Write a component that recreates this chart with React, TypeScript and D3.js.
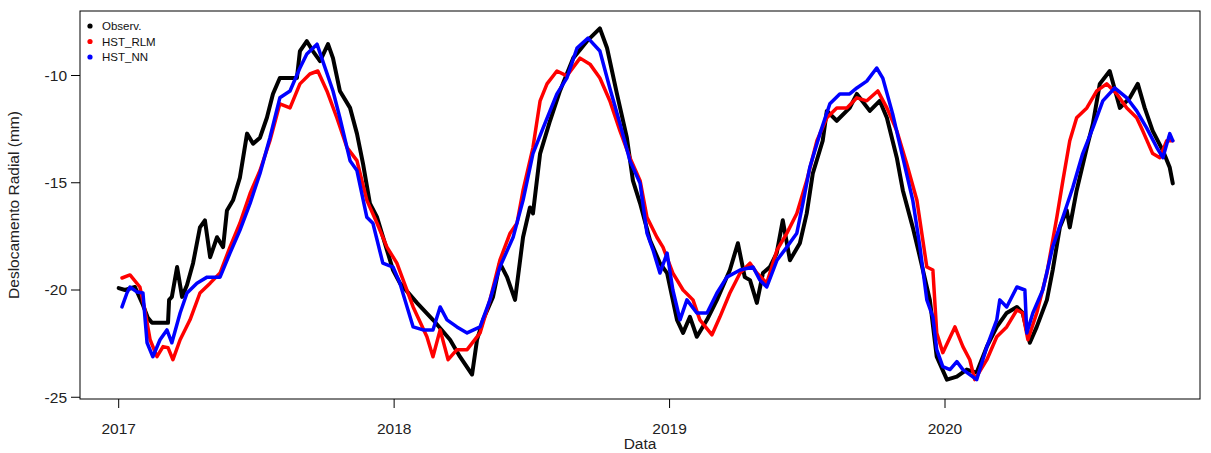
import React from "react";
import * as d3 from "d3";

// time as decimal year, value in mm
const observ: [number, number][] = [
  [2017.0, -19.91], [2017.023, -20.0], [2017.059, -19.86], [2017.088, -20.7], [2017.106, -21.3],
  [2017.121, -21.53], [2017.179, -21.53], [2017.183, -20.46], [2017.193, -20.32], [2017.212, -18.93],
  [2017.23, -20.32], [2017.248, -19.77], [2017.27, -18.75], [2017.295, -17.08], [2017.313, -16.75],
  [2017.332, -18.47], [2017.357, -17.54], [2017.379, -18.0], [2017.393, -16.29], [2017.415, -15.82],
  [2017.44, -14.76], [2017.466, -12.71], [2017.488, -13.18], [2017.513, -12.9], [2017.538, -11.97],
  [2017.56, -10.86], [2017.585, -10.12], [2017.647, -10.12], [2017.658, -8.86], [2017.683, -8.4],
  [2017.705, -8.86], [2017.731, -9.33], [2017.76, -8.54], [2017.778, -9.19], [2017.803, -10.72],
  [2017.84, -11.51], [2017.865, -12.71], [2017.887, -14.11], [2017.912, -15.96], [2017.938, -16.61],
  [2017.974, -18.14], [2017.996, -19.07], [2018.021, -19.68], [2018.083, -20.6], [2018.141, -21.39],
  [2018.203, -22.32], [2018.239, -23.11], [2018.283, -23.94], [2018.301, -22.32], [2018.323, -21.39],
  [2018.359, -20.32], [2018.384, -18.75], [2018.41, -19.4], [2018.439, -20.46], [2018.468, -17.54],
  [2018.493, -16.15], [2018.504, -16.43], [2018.53, -13.64], [2018.566, -12.11], [2018.602, -10.72],
  [2018.65, -9.19], [2018.7, -8.4], [2018.747, -7.8], [2018.773, -8.72], [2018.809, -10.86],
  [2018.845, -12.9], [2018.867, -14.9], [2018.893, -15.96], [2018.929, -17.68], [2018.965, -18.75],
  [2018.991, -19.21], [2019.027, -21.39], [2019.049, -22.0], [2019.074, -21.25], [2019.099, -22.18],
  [2019.136, -21.39], [2019.172, -20.46], [2019.219, -19.07], [2019.248, -17.82], [2019.273, -19.4],
  [2019.292, -19.54], [2019.317, -20.6], [2019.339, -19.21], [2019.364, -18.93], [2019.389, -18.28],
  [2019.411, -16.75], [2019.437, -18.61], [2019.473, -17.82], [2019.498, -16.43], [2019.52, -14.57],
  [2019.556, -13.04], [2019.571, -11.65], [2019.607, -12.11], [2019.654, -11.51], [2019.68, -10.86],
  [2019.727, -11.65], [2019.763, -11.18], [2019.789, -11.97], [2019.825, -13.83], [2019.847, -15.36],
  [2019.883, -17.08], [2019.909, -18.47], [2019.945, -20.46], [2019.97, -23.11], [2020.007, -24.18],
  [2020.043, -24.04], [2020.079, -23.71], [2020.115, -23.85], [2020.152, -22.64], [2020.188, -21.72],
  [2020.224, -21.07], [2020.261, -20.79], [2020.282, -21.07], [2020.308, -22.46], [2020.333, -21.72],
  [2020.37, -20.46], [2020.391, -19.07], [2020.417, -17.08], [2020.442, -16.29], [2020.453, -17.08],
  [2020.478, -15.36], [2020.515, -13.36], [2020.537, -12.25], [2020.562, -10.39], [2020.598, -9.79],
  [2020.635, -11.51], [2020.671, -11.04], [2020.7, -10.39], [2020.725, -11.51], [2020.754, -12.58],
  [2020.791, -13.5], [2020.816, -14.29], [2020.827, -15.03],
];

const hstRlm: [number, number][] = [
  [2017.012, -19.44], [2017.041, -19.3], [2017.077, -19.86], [2017.095, -20.93], [2017.114, -22.32],
  [2017.139, -23.11], [2017.161, -22.64], [2017.179, -22.69], [2017.197, -23.25], [2017.223, -22.32],
  [2017.259, -21.39], [2017.295, -20.14], [2017.332, -19.68], [2017.368, -19.21], [2017.404, -18.0],
  [2017.44, -16.89], [2017.477, -15.5], [2017.513, -14.43], [2017.549, -13.04], [2017.585, -11.32],
  [2017.622, -11.51], [2017.658, -10.39], [2017.694, -9.93], [2017.723, -9.79], [2017.756, -10.72],
  [2017.792, -11.97], [2017.829, -13.36], [2017.865, -13.97], [2017.901, -15.82], [2017.938, -16.89],
  [2017.974, -18.0], [2018.01, -18.75], [2018.069, -20.79], [2018.119, -22.18], [2018.141, -23.11],
  [2018.167, -21.86], [2018.196, -23.25], [2018.228, -22.78], [2018.265, -22.78], [2018.312, -22.0],
  [2018.348, -20.46], [2018.384, -18.61], [2018.421, -17.35], [2018.446, -16.89], [2018.468, -15.36],
  [2018.504, -13.36], [2018.53, -11.18], [2018.555, -10.39], [2018.591, -9.79], [2018.627, -10.02],
  [2018.675, -9.19], [2018.711, -9.47], [2018.747, -10.12], [2018.783, -11.18], [2018.82, -12.58],
  [2018.856, -13.83], [2018.893, -14.9], [2018.918, -16.61], [2018.954, -17.54], [2018.976, -18.0],
  [2019.012, -19.21], [2019.049, -20.0], [2019.085, -20.46], [2019.11, -21.39], [2019.154, -22.09],
  [2019.183, -21.25], [2019.219, -20.14], [2019.256, -19.21], [2019.292, -18.75], [2019.317, -19.21],
  [2019.353, -19.68], [2019.39, -18.14], [2019.426, -17.35], [2019.462, -16.43], [2019.498, -14.9],
  [2019.535, -13.04], [2019.571, -11.97], [2019.607, -11.51], [2019.644, -11.51], [2019.68, -11.04],
  [2019.716, -11.18], [2019.756, -10.72], [2019.789, -11.51], [2019.825, -12.58], [2019.861, -14.11],
  [2019.898, -15.82], [2019.934, -18.93], [2019.956, -19.07], [2019.97, -22.0], [2019.992, -22.92],
  [2020.036, -21.72], [2020.065, -22.64], [2020.09, -23.25], [2020.108, -24.18], [2020.152, -23.25],
  [2020.188, -22.18], [2020.224, -21.72], [2020.261, -20.93], [2020.282, -21.07], [2020.301, -22.32],
  [2020.333, -21.07], [2020.37, -19.21], [2020.406, -16.61], [2020.428, -14.9], [2020.453, -13.04],
  [2020.478, -11.97], [2020.515, -11.51], [2020.551, -10.72], [2020.587, -10.39], [2020.624, -10.86],
  [2020.66, -11.51], [2020.696, -11.97], [2020.718, -12.58], [2020.754, -13.64], [2020.78, -13.83],
  [2020.805, -13.04], [2020.827, -13.04],
];

const hstNn: [number, number][] = [
  [2017.012, -20.79], [2017.03, -20.14], [2017.041, -19.86], [2017.066, -20.09], [2017.088, -20.14],
  [2017.103, -22.46], [2017.124, -23.11], [2017.15, -22.32], [2017.175, -21.86], [2017.193, -22.46],
  [2017.223, -21.07], [2017.248, -20.14], [2017.284, -19.68], [2017.321, -19.4], [2017.368, -19.4],
  [2017.404, -18.28], [2017.44, -17.22], [2017.477, -15.96], [2017.513, -14.57], [2017.549, -12.9],
  [2017.585, -11.04], [2017.622, -10.72], [2017.658, -9.65], [2017.683, -9.0], [2017.72, -8.54],
  [2017.741, -9.33], [2017.778, -10.72], [2017.803, -11.97], [2017.84, -13.97], [2017.865, -14.43],
  [2017.901, -16.61], [2017.923, -16.89], [2017.959, -18.75], [2017.996, -18.93], [2018.021, -19.68],
  [2018.069, -21.72], [2018.105, -21.86], [2018.141, -21.86], [2018.167, -20.79], [2018.192, -21.39],
  [2018.228, -21.72], [2018.265, -22.0], [2018.312, -21.72], [2018.348, -20.46], [2018.384, -18.93],
  [2018.432, -17.54], [2018.468, -15.82], [2018.504, -13.64], [2018.541, -12.44], [2018.591, -10.86],
  [2018.627, -10.12], [2018.664, -8.72], [2018.704, -8.26], [2018.747, -8.86], [2018.783, -10.58],
  [2018.82, -12.25], [2018.856, -13.97], [2018.893, -15.03], [2018.918, -17.35], [2018.94, -18.14],
  [2018.965, -19.21], [2018.991, -18.28], [2019.012, -20.0], [2019.038, -21.39], [2019.063, -20.46],
  [2019.099, -21.07], [2019.136, -21.07], [2019.172, -20.14], [2019.208, -19.4], [2019.256, -19.07],
  [2019.303, -18.93], [2019.328, -19.54], [2019.353, -19.86], [2019.39, -18.61], [2019.426, -18.0],
  [2019.462, -17.35], [2019.484, -15.96], [2019.509, -14.29], [2019.546, -12.71], [2019.582, -11.32],
  [2019.618, -10.86], [2019.654, -10.86], [2019.68, -10.58], [2019.716, -10.26], [2019.752, -9.65],
  [2019.774, -10.12], [2019.81, -11.79], [2019.847, -13.83], [2019.883, -15.82], [2019.909, -18.0],
  [2019.934, -20.46], [2019.956, -21.25], [2019.97, -22.78], [2019.992, -23.57], [2020.018, -23.71],
  [2020.043, -23.34], [2020.065, -23.71], [2020.115, -24.18], [2020.152, -22.64], [2020.188, -21.39],
  [2020.199, -20.46], [2020.224, -20.79], [2020.261, -19.86], [2020.29, -20.0], [2020.297, -22.0],
  [2020.319, -21.07], [2020.355, -20.0], [2020.391, -18.0], [2020.428, -16.61], [2020.464, -15.22],
  [2020.5, -13.64], [2020.537, -12.44], [2020.573, -11.18], [2020.616, -10.58], [2020.66, -11.04],
  [2020.696, -11.65], [2020.732, -12.44], [2020.769, -13.36], [2020.791, -13.83], [2020.816, -12.71],
  [2020.827, -13.04],
];

const yearTicks = [2017, 2018, 2019, 2020];
const valueTicks = [-25, -20, -15, -10];
const seriesNames = ["Observ.", "HST_RLM", "HST_NN"];
const seriesColors = ["#000000", "#ff0000", "#0000ff"];

const W = 1211;
const H = 453;
const box = { left: 80, right: 1200, top: 11, bottom: 399 };
const font = "'Liberation Sans', Arial, sans-serif";

export default function App() {
  const x = d3.scaleLinear().domain([2017, 2020]).range([118.7, 945]);
  const y = d3.scaleLinear().domain([-20, -10]).range([290, 75.5]);

  const line = d3
    .line<[number, number]>()
    .x((d) => x(d[0]))
    .y((d) => y(d[1]));

  const allSeries = [observ, hstRlm, hstNn];

  return (
    <div style={{ position: "fixed", left: 0, top: 0 }}>
      <svg width={W} height={H} style={{ display: "block", background: "#fff" }}>
        {/* series */}
        {allSeries.map((s, i) => (
          <path
            key={i}
            d={line(s) || ""}
            fill="none"
            stroke={seriesColors[i]}
            strokeWidth={i === 0 ? 4 : 3.5}
            strokeLinejoin="round"
            strokeLinecap="round"
          />
        ))}

        {/* box */}
        <rect
          x={box.left}
          y={box.top}
          width={box.right - box.left}
          height={box.bottom - box.top}
          fill="none"
          stroke="#000"
          strokeWidth={1}
        />

        {/* axes */}
        <g fontFamily={font} fontSize={15.5} fill="#222">
          {valueTicks.map((v) => (
            <g key={v}>
              <line x1={box.left - 9} x2={box.left} y1={y(v)} y2={y(v)} stroke="#000" />
              <text x={box.left - 13} y={y(v)} dy="0.35em" textAnchor="end">
                {v}
              </text>
            </g>
          ))}
          {yearTicks.map((t) => (
            <g key={t}>
              <line x1={x(t)} x2={x(t)} y1={box.bottom} y2={box.bottom + 9} stroke="#000" />
              <text x={x(t)} y={434} textAnchor="middle">
                {t}
              </text>
            </g>
          ))}
          <text x={(box.left + box.right) / 2} y={449} textAnchor="middle">
            Data
          </text>
          <text
            transform={`translate(19,${(box.top + box.bottom) / 2}) rotate(-90)`}
            textAnchor="middle"
          >
            Deslocamento Radial (mm)
          </text>
        </g>

        {/* legend */}
        <g fontFamily={font} fontSize={11.5} fill="#111">
          {seriesNames.map((n, i) => (
            <g key={n} transform={`translate(0,${26 + i * 15.5})`}>
              <circle cx={90} cy={0} r={2.6} fill={seriesColors[i]} />
              <text x={102} y={0} dy="0.36em">
                {n}
              </text>
            </g>
          ))}
        </g>
      </svg>
    </div>
  );
}
